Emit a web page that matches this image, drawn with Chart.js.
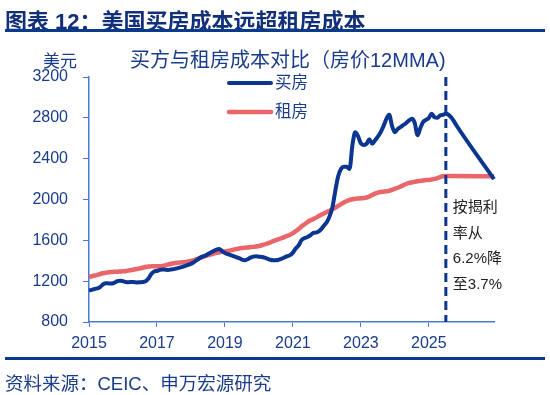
<!DOCTYPE html>
<html lang="zh">
<head>
<meta charset="UTF-8">
<title>美国买房成本远超租房成本</title>
<script src="https://cdn.jsdelivr.net/npm/chart.js"></script>
<style>
  body { margin: 0; background: #fff; font-family: "Liberation Sans", "Noto Sans CJK SC", sans-serif; }
  .page { position: relative; width: 550px; height: 395px; overflow: hidden; }
  .head { position: absolute; left: 5px; top: 3px; font-size: 22px; font-weight: bold; color: #12307a; white-space: nowrap; }
  .rule { position: absolute; left: 5px; width: 540px; height: 3px; background: #0b3a8c; }
  .ctitle { position: absolute; left: 130px; top: 44px; font-size: 20px; color: #1a3c8c; white-space: nowrap; }
  .unit { position: absolute; left: 43px; top: 47px; font-size: 17px; color: #1a3c8c; }
  .src { position: absolute; left: 5px; top: 369px; font-size: 18.5px; color: #1a3c8c; white-space: nowrap; }
  canvas { position: absolute; left: 0; top: 0; }
</style>
</head>
<body>
<div class="page">
  <canvas id="costChart" width="550" height="395"></canvas>
  <div class="head">图表 12：美国买房成本远超租房成本</div>
  <div class="rule" style="top:29px"></div>
  <div class="ctitle">买方与租房成本对比（房价12MMA)</div>
  <div class="unit">美元</div>
  <div class="rule" style="top:357px"></div>
  <div class="src">资料来源：CEIC、申万宏源研究</div>
</div>

<script>
  // monthly labels, 2015-01 .. 2026-12
  const months = [];
  for (let y = 2015; y <= 2026; y++) {
    for (let m = 1; m <= 12; m++) months.push(y + '-' + String(m).padStart(2, '0'));
  }
  const tickYears = ['2015', '2017', '2019', '2021', '2023', '2025'];
  const yTicks = [800, 1200, 1600, 2000, 2400, 2800, 3200];
  const cutMonth = '2025-07';
  const noteLines = ['按揭利', '率从', '6.2%降', '至3.7%'];

  // 买房 (12MMA)
  const buyCost = [
    1110, 1115, 1125, 1130, 1145, 1170, 1180, 1178, 1176, 1185, 1200, 1205,
    1200, 1192, 1190, 1192, 1190, 1188, 1190, 1192, 1200, 1225, 1270, 1295,
    1300, 1310, 1315, 1312, 1310, 1315, 1318, 1325, 1332, 1340, 1350, 1360,
    1370, 1385, 1405, 1425, 1440, 1450, 1465, 1480, 1495, 1510, 1515, 1495,
    1475, 1465, 1455, 1445, 1435, 1425, 1412, 1405, 1415, 1430, 1440, 1445,
    1440, 1437, 1430, 1420, 1410, 1405, 1405, 1410, 1420, 1432, 1445, 1455,
    1480, 1520, 1550, 1600, 1620, 1630, 1645, 1670, 1675, 1685, 1710, 1745,
    1780, 1840, 1930, 2090, 2230, 2300, 2320, 2320, 2300, 2530, 2660, 2620,
    2550, 2535, 2545, 2590, 2545, 2580, 2615, 2660, 2720, 2790, 2830, 2720,
    2660, 2690, 2710, 2730, 2750, 2775, 2790, 2750, 2630, 2700, 2760, 2780,
    2800, 2840, 2805, 2800, 2825, 2830, 2840, 2830, 2800, 2760, 2715, null,
    null, null, null, null, null, null, null, null, null, null, null, 2200
  ];

  // 租房
  const rentCost = [
    1240, 1248, 1255, 1262, 1270, 1277, 1283, 1288, 1290, 1292, 1293, 1295,
    1297, 1300, 1305, 1310, 1315, 1320, 1325, 1332, 1338, 1343, 1345, 1346,
    1346, 1347, 1350, 1356, 1363, 1370, 1376, 1380, 1383, 1385, 1388, 1392,
    1398, 1405, 1415, 1425, 1435, 1445, 1455, 1462, 1470, 1477, 1482, 1487,
    1492, 1497, 1502, 1508, 1515, 1520, 1525, 1528, 1530, 1533, 1536, 1540,
    1545, 1552, 1560, 1570, 1580, 1592, 1603, 1613, 1622, 1632, 1643, 1655,
    1670, 1690, 1710, 1735, 1755, 1775, 1795, 1805, 1820, 1835, 1850, 1865,
    1878, 1890, 1905, 1920, 1938, 1955, 1970, 1985, 1995, 2003, 2008, 2010,
    2012, 2015, 2020, 2030, 2045, 2058, 2068, 2074, 2077, 2080, 2085, 2095,
    2105, 2115, 2128, 2140, 2152, 2162, 2168, 2173, 2178, 2183, 2187, 2190,
    2192, 2196, 2202, 2210, 2220, 2227, 2230, 2230, null, null, null, null,
    null, null, null, null, null, null, null, null, null, null, null, 2228
  ];

  const BLUE = '#0a3591';
  const RED = '#e9666a';
  const AXIS = '#4a7bd0';
  const TEXT = '#1a3c8c';
  const FONT = '"Liberation Sans", "Noto Sans CJK SC", sans-serif';

  // dashed cut line, note text and in-plot legend
  const extras = {
    id: 'extras',
    afterDatasetsDraw(chart) {
      const { ctx, chartArea, scales } = chart;
      const x = scales.x.getPixelForValue(months.indexOf(cutMonth));
      ctx.save();
      ctx.strokeStyle = BLUE;
      ctx.lineWidth = 3;
      ctx.setLineDash([9, 5]);
      ctx.beginPath();
      ctx.moveTo(x, chartArea.top);
      ctx.lineTo(x, chartArea.bottom);
      ctx.stroke();
      ctx.setLineDash([]);

      ctx.fillStyle = '#222';
      ctx.font = '15px ' + FONT;
      ctx.textBaseline = 'middle';
      ctx.textAlign = 'left';
      noteLines.forEach((t, i) => ctx.fillText(t, x + 7, 208 + i * 25.5));

      chart.data.datasets.forEach((ds, i) => {
        const ly = 83 + i * 29;
        ctx.strokeStyle = ds.borderColor;
        ctx.lineWidth = ds.borderWidth;
        ctx.lineCap = 'round';
        ctx.beginPath();
        ctx.moveTo(229, ly);
        ctx.lineTo(271, ly);
        ctx.stroke();
        ctx.fillStyle = TEXT;
        ctx.font = '16.5px ' + FONT;
        ctx.fillText(ds.label, 275, ly);
      });
      ctx.restore();
    }
  };

  new Chart(document.getElementById('costChart'), {
    type: 'line',
    data: {
      labels: months,
      datasets: [
        { label: '买房', data: buyCost, borderColor: BLUE, borderWidth: 4, tension: 0.3, spanGaps: true },
        { label: '租房', data: rentCost, borderColor: RED, borderWidth: 4.5, tension: 0.4, spanGaps: true }
      ]
    },
    options: {
      responsive: false,
      animation: false,
      events: [],
      layout: { padding: { left: 0, top: 77, right: 56, bottom: 43 } },
      elements: { point: { radius: 0 }, line: { cubicInterpolationMode: 'monotone' } },
      plugins: { legend: { display: false }, tooltip: { enabled: false } },
      scales: {
        x: {
          type: 'category',
          offset: false,
          afterFit: (s) => { s.height = 30; },
          border: { color: AXIS, width: 1.5 },
          grid: { drawOnChartArea: false, color: AXIS, tickLength: 5 },
          ticks: {
            autoSkip: false,
            maxRotation: 0,
            padding: 7,
            color: TEXT,
            font: { family: FONT, size: 16 },
            callback(v) {
              const lab = months[v];
              const yr = lab.slice(0, 4);
              return lab.endsWith('-01') && tickYears.includes(yr) ? yr : null;
            }
          }
        },
        y: {
          min: yTicks[0],
          max: yTicks[yTicks.length - 1],
          afterFit: (s) => { s.width = 89; },
          afterBuildTicks: (s) => { s.ticks = yTicks.map(v => ({ value: v })); },
          border: { color: AXIS, width: 1.5 },
          grid: { drawOnChartArea: false, color: AXIS, tickLength: 6 },
          ticks: {
            padding: 15,
            color: TEXT,
            font: { family: FONT, size: 16 },
            callback: (v) => String(v)
          }
        }
      }
    },
    plugins: [extras]
  });
</script>
</body>
</html>
